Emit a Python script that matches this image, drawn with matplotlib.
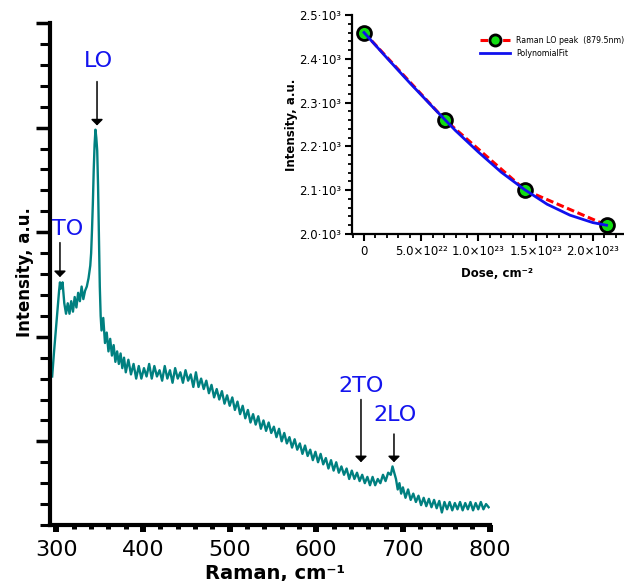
import matplotlib
matplotlib.use("Agg")
import matplotlib.pyplot as plt
from matplotlib.ticker import MultipleLocator, FixedLocator, FixedFormatter

# Raman spectrum (arbitrary intensity units)
raman = [295, 297, 299, 301, 303, 304, 305, 307, 309, 311, 313, 315, 317, 319, 321, 323,
         325, 327, 329, 331, 333, 335, 337, 339, 340, 341, 342, 343, 344, 345, 346, 347,
         348, 349, 350, 351, 352, 354, 356, 358, 360, 362, 364, 366, 368, 370, 372, 374,
         376, 378, 380, 383, 386, 389, 392, 395, 398, 401, 404, 407, 410, 413, 416, 419,
         422, 425, 428, 431, 434, 437, 440, 443, 446, 449, 452, 455, 458, 461, 464, 467,
         470, 473, 476, 479, 482, 485, 488, 491, 494, 497, 500, 503, 506, 509, 512, 515,
         518, 521, 524, 527, 530, 533, 536, 539, 542, 545, 548, 551, 554, 557, 560, 563,
         566, 569, 572, 575, 578, 581, 584, 587, 590, 593, 596, 599, 602, 605, 608, 611,
         614, 617, 620, 623, 626, 629, 632, 635, 638, 641, 644, 647, 650, 653, 656, 659,
         662, 665, 668, 671, 674, 677, 680, 683, 686, 688, 690, 692, 694, 696, 698, 700,
         703, 706, 709, 712, 715, 718, 721, 724, 727, 730, 733, 736, 739, 742, 745, 748,
         751, 754, 757, 760, 763, 766, 769, 772, 775, 778, 781, 784, 787, 790, 793, 796, 799]
intensity = [7.1, 8.2, 9.2, 10.2, 11.2, 11.6, 11.3, 11.6, 10.6, 10.1, 10.6, 10.1, 10.7, 10.2, 10.9, 10.4,
             11.1, 10.7, 11.4, 10.8, 11.2, 11.4, 11.8, 12.4, 13.0, 14.1, 15.4, 17.0, 18.2, 18.9, 18.5, 17.9,
             16.2, 13.7, 11.4, 10.0, 9.3, 9.9, 8.7, 9.2, 8.3, 8.9, 8.1, 8.6, 7.8, 8.3, 7.7, 8.2,
             7.5, 8.0, 7.3, 7.9, 7.2, 7.7, 7.0, 7.6, 7.0, 7.5, 7.1, 7.7, 7.0, 7.6, 7.1, 7.4,
             6.9, 7.6, 7.0, 7.4, 6.8, 7.5, 7.0, 7.3, 6.8, 7.4, 6.9, 7.2, 6.6, 7.3, 6.6, 7.0,
             6.5, 6.9, 6.3, 6.7, 6.1, 6.5, 6.0, 6.4, 5.8, 6.2, 5.7, 6.1, 5.5, 5.9, 5.3, 5.7,
             5.1, 5.5, 4.9, 5.3, 4.8, 5.2, 4.6, 5.0, 4.5, 4.9, 4.4, 4.7, 4.2, 4.6, 4.0, 4.4,
             3.9, 4.2, 3.7, 4.1, 3.6, 3.9, 3.4, 3.8, 3.3, 3.6, 3.1, 3.5, 3.0, 3.4, 2.9, 3.2,
             2.7, 3.1, 2.6, 3.0, 2.5, 2.8, 2.4, 2.7, 2.2, 2.6, 2.2, 2.5, 2.1, 2.4, 2.0, 2.3,
             1.9, 2.3, 1.9, 2.2, 2.0, 2.4, 2.1, 2.5, 2.4, 2.8, 2.5, 2.2, 1.7, 2.0, 1.5, 1.8,
             1.3, 1.7, 1.2, 1.5, 1.1, 1.4, 0.95, 1.3, 0.9, 1.25, 0.85, 1.2, 0.8, 1.15, 0.6, 1.1,
             0.75, 1.1, 0.7, 1.05, 0.75, 1.1, 0.7, 1.05, 0.75, 1.1, 0.7, 1.05, 0.75, 1.1, 0.75, 1.0, 0.85]

# peak labels: text, peak position, arrow top, arrow tip, label position
peak_names = ["LO", "TO", "2TO", "2LO"]
peak_pos = [346.8, 304.0, 651.6, 689.7]
arrow_top = [21.2, 13.5, 6.0, 4.35]
arrow_tip = [19.1, 11.85, 3.0, 3.0]
label_x = [349.0, 313.3, 651.6, 691.0]
label_y = [22.2, 14.15, 6.65, 5.25]

# inset: LO peak intensity vs dose
dose = [0.0, 7.1e22, 1.41e23, 2.12e23]
lo_peak = [2460, 2260, 2100, 2020]
fit_dose = [0, 2e22, 4e22, 6e22, 8e22, 1e23, 1.2e23, 1.4e23, 1.6e23, 1.8e23, 2e23, 2.12e23]
fit_val = [2460, 2402, 2345, 2290, 2236, 2187, 2141, 2102, 2068, 2043, 2026, 2020]
inset_yticks = [2000, 2100, 2200, 2300, 2400, 2500]
inset_ylabels = ["2.0·10³", "2.1·10³", "2.2·10³", "2.3·10³", "2.4·10³", "2.5·10³"]
inset_xticks = [0, 5e22, 1e23, 1.5e23, 2e23]
inset_xlabels = ["0", "5.0×10²²", "1.0×10²³", "1.5×10²³", "2.0×10²³"]

W, H = 624, 581
fig = plt.figure(figsize=(W / 100, H / 100), dpi=100)

def fx(px):
    return px / W

def fy(py):
    return 1 - py / H

teal = "#008080"
blue = "#1414ee"

ax = fig.add_axes([fx(50), fy(525), fx(489.5 - 50), (525 - 23) / H])
ax.plot(raman, intensity, color=teal, lw=1.7)
ax.set_xlim(292.5, 800)
ax.set_ylim(0, 24)
for s in ["top", "right"]:
    ax.spines[s].set_visible(False)
for s in ["left", "bottom"]:
    ax.spines[s].set_linewidth(3)
ax.set_xticks([300, 400, 500, 600, 700, 800])
ax.xaxis.set_minor_locator(MultipleLocator(20))
ax.set_yticks([4, 9, 14, 19, 24])
ax.yaxis.set_minor_locator(MultipleLocator(1))
ax.set_yticklabels([])
ax.tick_params(axis="y", which="major", length=10, width=2.5)
ax.tick_params(axis="y", which="minor", length=7, width=2.2)
ax.tick_params(axis="x", which="major", length=5, width=4.3, labelsize=16, pad=6)
ax.tick_params(axis="x", which="minor", length=3, width=3.6)

for name, px, y0, y1, lx, ly in zip(peak_names, peak_pos, arrow_top, arrow_tip, label_x, label_y):
    ax.annotate("", xy=(px, y1), xytext=(px, y0),
                arrowprops=dict(arrowstyle="-|>,head_length=0.35,head_width=0.35",
                                color="black", lw=1.1, shrinkA=0, shrinkB=0))
    ax.text(lx, ly, name, color=blue, fontsize=16, ha="center", va="center")

fig.text(fx(25), fy(272), "Intensity, a.u.", rotation=90, fontsize=12,
         fontweight="bold", ha="center", va="center")
fig.text(fx(275), fy(573), "Raman, cm⁻¹", fontsize=14, fontweight="bold",
         ha="center", va="center")

# inset
ax2 = fig.add_axes([fx(352), fy(234), fx(626 - 352), (234 - 15) / H])
ax2.plot(dose, lo_peak, color="red", ls=(0, (2.5, 1.2)), lw=2.2, marker="o",
         ms=10, mfc="#11dd11", mec="black", mew=2, label="Raman LO peak  (879.5nm)")
ax2.plot(fit_dose, fit_val, color="#1010ee", lw=2, label="PolynomialFit")
ax2.set_xlim(-1.05e22, 2.29e23)
ax2.set_ylim(2000, 2500)
for s in ["top", "right"]:
    ax2.spines[s].set_visible(False)
for s in ["left", "bottom"]:
    ax2.spines[s].set_linewidth(1.6)
ax2.yaxis.set_major_locator(FixedLocator(inset_yticks))
ax2.yaxis.set_major_formatter(FixedFormatter(inset_ylabels))
ax2.xaxis.set_major_locator(FixedLocator(inset_xticks))
ax2.xaxis.set_major_formatter(FixedFormatter(inset_xlabels))
ax2.xaxis.set_minor_locator(MultipleLocator(1e22))
ax2.yaxis.set_minor_locator(MultipleLocator(20))
ax2.tick_params(which="major", length=5, width=1.5, labelsize=8.5, pad=3)
ax2.tick_params(which="minor", length=3, width=1.3)
ax2.patch.set_alpha(0)

fig.text(fx(292), fy(125), "Intensity, a.u.", rotation=90, fontsize=8.5,
         fontweight="bold", ha="center", va="center")
fig.text(fx(497), fy(273), "Dose, cm⁻²", fontsize=8.5, fontweight="bold",
         ha="center", va="center")

fig.legend(loc="upper left", bbox_to_anchor=(fx(476), fy(32)), frameon=False,
           fontsize=5.7, handlelength=3.8, handletextpad=0.8, labelspacing=0.45,
           borderpad=0, markerscale=0.8)

fig.savefig("out.png", dpi=100)
